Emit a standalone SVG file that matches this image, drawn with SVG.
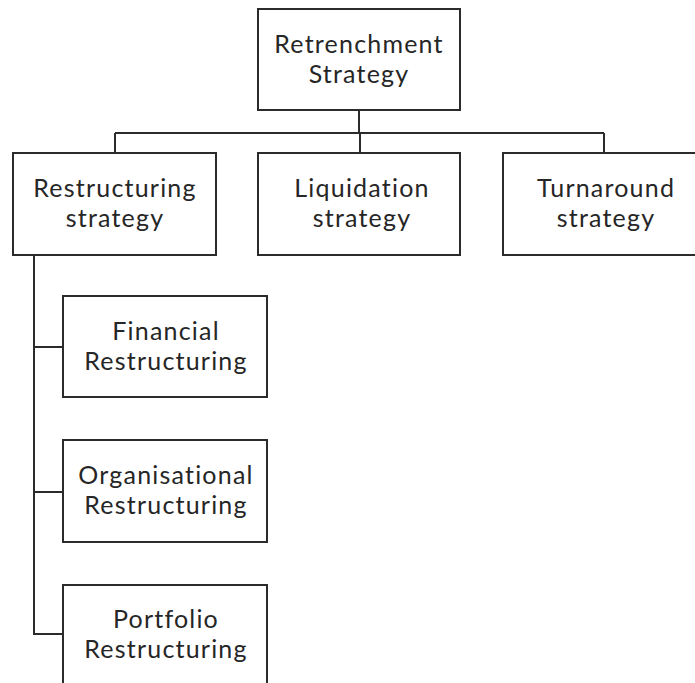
<svg xmlns="http://www.w3.org/2000/svg" width="695" height="683" viewBox="0 0 695 683">
  <style>
    .box { fill: #ffffff; stroke: #2b2b2b; stroke-width: 2; }
    .link { fill: none; stroke: #2b2b2b; stroke-width: 2; }
    .label { font-family: Lato, "Open Sans", "Liberation Sans", sans-serif; font-size: 25px; letter-spacing: 1.2px; font-variant-ligatures: none; fill: #262626; text-anchor: middle; }
  </style>
  <rect width="695" height="683" fill="#ffffff"/>

  <!-- connectors -->
  <g id="connectors">
    <path class="link" d="M359,110 V133"/>
    <path class="link" d="M115,133 H604"/>
    <path class="link" d="M115,133 V153"/>
    <path class="link" d="M360,133 V153"/>
    <path class="link" d="M604,133 V153"/>
    <path class="link" d="M34,255 V634 H63"/>
    <path class="link" d="M34,347 H63"/>
    <path class="link" d="M34,492 H63"/>
  </g>

  <g id="retrenchment">
    <rect class="box" x="258" y="9" width="202" height="101"/>
    <text class="label" y="53"><tspan x="359">Retrenchment</tspan><tspan x="359" dy="30">Strategy</tspan></text>
  </g>

  <g id="restructuring">
    <rect class="box" x="13" y="153" width="203" height="102"/>
    <text class="label" y="197"><tspan x="115">Restructuring</tspan><tspan x="115" dy="30">strategy</tspan></text>
  </g>

  <g id="liquidation">
    <rect class="box" x="258" y="153" width="202" height="102"/>
    <text class="label" y="197"><tspan x="362">Liquidation</tspan><tspan x="362" dy="30">strategy</tspan></text>
  </g>

  <g id="turnaround">
    <rect class="box" x="503" y="153" width="203" height="102"/>
    <text class="label" y="197"><tspan x="606">Turnaround</tspan><tspan x="606" dy="30">strategy</tspan></text>
  </g>

  <g id="financial">
    <rect class="box" x="63" y="296" width="204" height="101"/>
    <text class="label" y="340"><tspan x="166">Financial</tspan><tspan x="166" dy="30">Restructuring</tspan></text>
  </g>

  <g id="organisational">
    <rect class="box" x="63" y="440" width="204" height="102"/>
    <text class="label" y="484"><tspan x="166">Organisational</tspan><tspan x="166" dy="30">Restructuring</tspan></text>
  </g>

  <g id="portfolio">
    <rect class="box" x="63" y="585" width="204" height="102"/>
    <text class="label" y="628"><tspan x="166">Portfolio</tspan><tspan x="166" dy="30">Restructuring</tspan></text>
  </g>
</svg>
